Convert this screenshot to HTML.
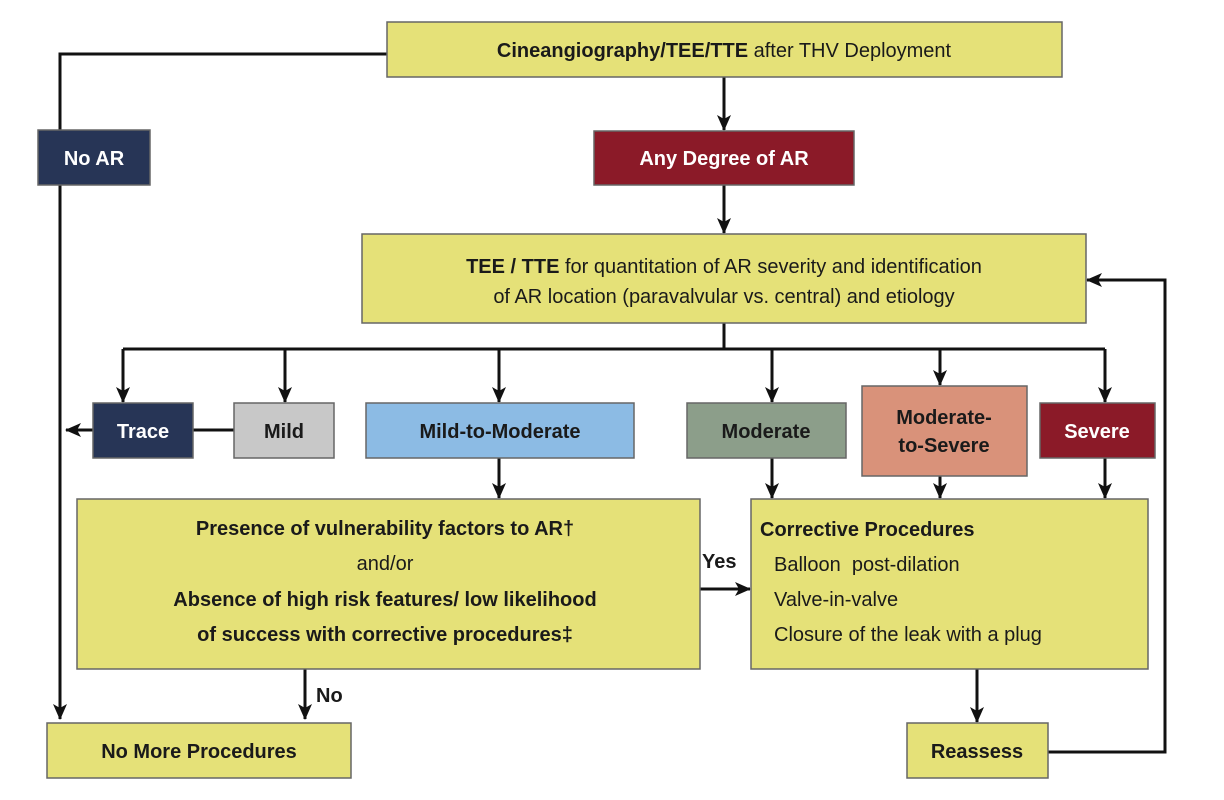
<!DOCTYPE html>
<html><head><style>body{margin:0;background:#fff}svg{display:block}text{font-family:"Liberation Sans",Arial,sans-serif;fill:#1a1a1a}</style></head><body>
<svg width="1224" height="800" viewBox="0 0 1224 800" xmlns="http://www.w3.org/2000/svg">
<defs><marker id="a" markerWidth="16" markerHeight="14" refX="15" refY="7" orient="auto" markerUnits="userSpaceOnUse"><path d="M0,0 L16,7 L0,14 L4,7 z" fill="#111"/></marker></defs>
<g stroke="#111" stroke-width="3" fill="none">
<path d="M387,54 H60 V130"/><path d="M60,185 V719" marker-end="url(#a)"/>
<path d="M724,77 V130" marker-end="url(#a)"/><path d="M724,185 V233" marker-end="url(#a)"/>
<path d="M724,323 V349 M123,349 H1105"/>
<path d="M123,349 V402" marker-end="url(#a)"/><path d="M285,349 V402" marker-end="url(#a)"/>
<path d="M499,349 V402" marker-end="url(#a)"/><path d="M772,349 V402" marker-end="url(#a)"/>
<path d="M940,349 V385" marker-end="url(#a)"/><path d="M1105,349 V402" marker-end="url(#a)"/>
<path d="M234,430 H66" marker-end="url(#a)"/>
<path d="M499,458 V498" marker-end="url(#a)"/><path d="M772,458 V498" marker-end="url(#a)"/>
<path d="M940,476 V498" marker-end="url(#a)"/><path d="M1105,458 V498" marker-end="url(#a)"/>
<path d="M700,589 H750" marker-end="url(#a)"/><path d="M305,669 V719" marker-end="url(#a)"/>
<path d="M977,669 V722" marker-end="url(#a)"/>
<path d="M1048,752 H1165 V280 H1087" marker-end="url(#a)"/>
</g>
<g stroke="#666" stroke-width="1.5">
<rect x="387" y="22" width="675" height="55" fill="#e5e178"/>
<rect x="38" y="130" width="112" height="55" fill="#273556"/>
<rect x="594" y="131" width="260" height="54" fill="#8b1a28"/>
<rect x="362" y="234" width="724" height="89" fill="#e5e178"/>
<rect x="93" y="403" width="100" height="55" fill="#273556"/>
<rect x="234" y="403" width="100" height="55" fill="#c8c8c8"/>
<rect x="366" y="403" width="268" height="55" fill="#8cbbe4"/>
<rect x="687" y="403" width="159" height="55" fill="#8c9e8a"/>
<rect x="862" y="386" width="165" height="90" fill="#d9927a"/>
<rect x="1040" y="403" width="115" height="55" fill="#8b1a28"/>
<rect x="77" y="499" width="623" height="170" fill="#e5e178"/>
<rect x="751" y="499" width="397" height="170" fill="#e5e178"/>
<rect x="47" y="723" width="304" height="55" fill="#e5e178"/>
<rect x="907" y="723" width="141" height="55" fill="#e5e178"/>
</g>
<g font-size="20" text-anchor="middle">
<text x="724" y="57"><tspan font-weight="bold">Cineangiography/TEE/TTE</tspan> after THV Deployment</text>
<text x="94" y="165" font-weight="bold" style="fill:#fff">No AR</text>
<text x="724" y="165" font-weight="bold" style="fill:#fff">Any Degree of AR</text>
<text x="724" y="273"><tspan font-weight="bold">TEE / TTE</tspan> for quantitation of AR severity and identification</text>
<text x="724" y="303">of AR location (paravalvular vs. central) and etiology</text>
<text x="143" y="438" font-weight="bold" style="fill:#fff">Trace</text>
<text x="284" y="438" font-weight="bold">Mild</text>
<text x="500" y="438" font-weight="bold">Mild-to-Moderate</text>
<text x="766" y="438" font-weight="bold">Moderate</text>
<text x="944" y="424" font-weight="bold">Moderate-</text>
<text x="944" y="452" font-weight="bold">to-Severe</text>
<text x="1097" y="438" font-weight="bold" style="fill:#fff">Severe</text>
<text x="385" y="535" font-weight="bold">Presence of vulnerability factors to AR†</text>
<text x="385" y="570">and/or</text>
<text x="385" y="606" font-weight="bold">Absence of high risk features/ low likelihood</text>
<text x="385" y="641" font-weight="bold">of success with corrective procedures‡</text>
<text x="199" y="758" font-weight="bold">No More Procedures</text>
<text x="977" y="758" font-weight="bold">Reassess</text>
</g>
<g font-size="20">
<text x="760" y="536" font-weight="bold">Corrective Procedures</text>
<text x="774" y="571">Balloon&#160; post-dilation</text>
<text x="774" y="606">Valve-in-valve</text>
<text x="774" y="641">Closure of the leak with a plug</text>
<text x="702" y="568" font-weight="bold">Yes</text>
<text x="316" y="702" font-weight="bold">No</text>
</g>
</svg>
</body></html>
